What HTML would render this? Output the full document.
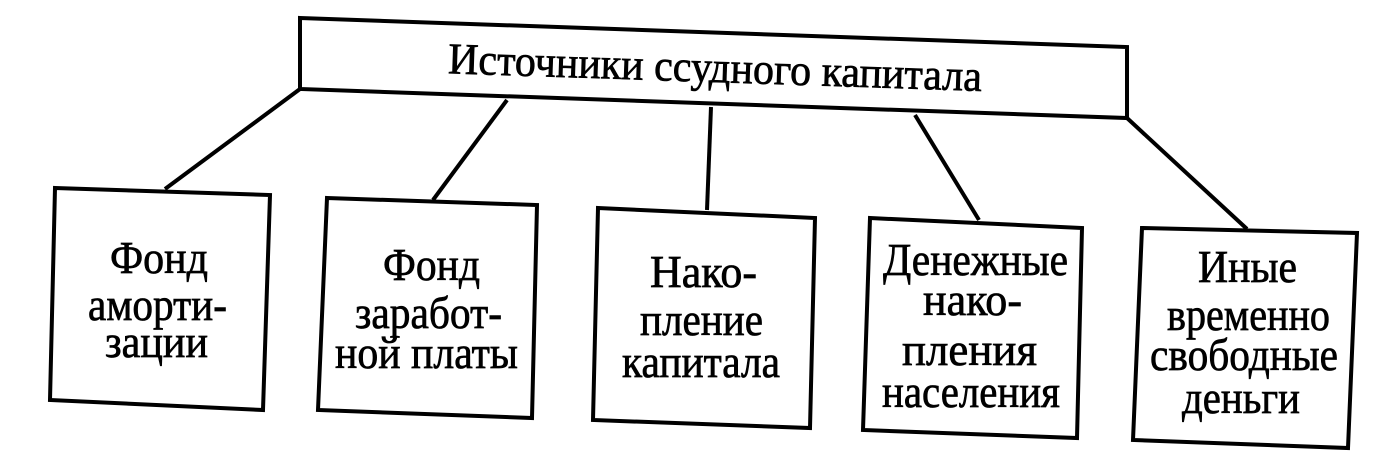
<!DOCTYPE html>
<html><head><meta charset="utf-8"><style>html,body{margin:0;padding:0;background:#fff}svg{display:block}</style></head>
<body>
<svg width="1382" height="453" viewBox="0 0 1382 453" xmlns="http://www.w3.org/2000/svg">
<g fill="none" stroke="#000" stroke-width="4" stroke-linejoin="miter">
<polygon points="300,18 1127,47 1127,118 300,89"/>
<polygon points="55,188 270,195 263,410 50,400"/>
<polygon points="327,198 537,205 532,418 318,410"/>
<polygon points="598,208 815,218 810,428 593,420"/>
<polygon points="870,218 1082,228 1077,438 863,430"/>
<polygon points="1142,228 1357,233 1348,448 1133,440"/>
<line x1="300" y1="89" x2="165" y2="189"/>
<line x1="507" y1="100" x2="433" y2="200"/>
<line x1="711" y1="107" x2="707" y2="210"/>
<line x1="915" y1="115" x2="979" y2="220"/>
<line x1="1127" y1="118" x2="1247" y2="229"/>
</g>
<g font-family="Liberation Serif, Noto Serif CJK SC, serif" font-size="46" fill="#000" stroke="#000" stroke-width="0.7">
<text x="448" y="82" font-size="44" textLength="534" lengthAdjust="spacingAndGlyphs" transform="rotate(1.9 712 70)">Источники ссудного капитала</text>
<text x="110" y="273" textLength="98" lengthAdjust="spacingAndGlyphs">Фонд</text>
<text x="88" y="320" textLength="139" lengthAdjust="spacingAndGlyphs">аморти-</text>
<text x="105" y="357" textLength="103" lengthAdjust="spacingAndGlyphs">зации</text>
<text x="383" y="280" textLength="97" lengthAdjust="spacingAndGlyphs">Фонд</text>
<text x="355" y="328" textLength="147" lengthAdjust="spacingAndGlyphs">заработ-</text>
<text x="335" y="368" textLength="183" lengthAdjust="spacingAndGlyphs">ной платы</text>
<text x="650" y="287" textLength="107" lengthAdjust="spacingAndGlyphs">Нако-</text>
<text x="640" y="335" textLength="123" lengthAdjust="spacingAndGlyphs">пление</text>
<text x="622" y="377" textLength="158" lengthAdjust="spacingAndGlyphs">капитала</text>
<text x="883" y="275" textLength="185" lengthAdjust="spacingAndGlyphs">Денежные</text>
<text x="923" y="315" textLength="99" lengthAdjust="spacingAndGlyphs">нако-</text>
<text x="902" y="365" textLength="135" lengthAdjust="spacingAndGlyphs">пления</text>
<text x="882" y="407" textLength="178" lengthAdjust="spacingAndGlyphs">населения</text>
<text x="1198" y="282" textLength="99" lengthAdjust="spacingAndGlyphs">Иные</text>
<text x="1167" y="330" textLength="163" lengthAdjust="spacingAndGlyphs">временно</text>
<text x="1150" y="370" textLength="188" lengthAdjust="spacingAndGlyphs">свободные</text>
<text x="1182" y="413" textLength="118" lengthAdjust="spacingAndGlyphs">деньги</text>
</g>
</svg>
</body></html>
